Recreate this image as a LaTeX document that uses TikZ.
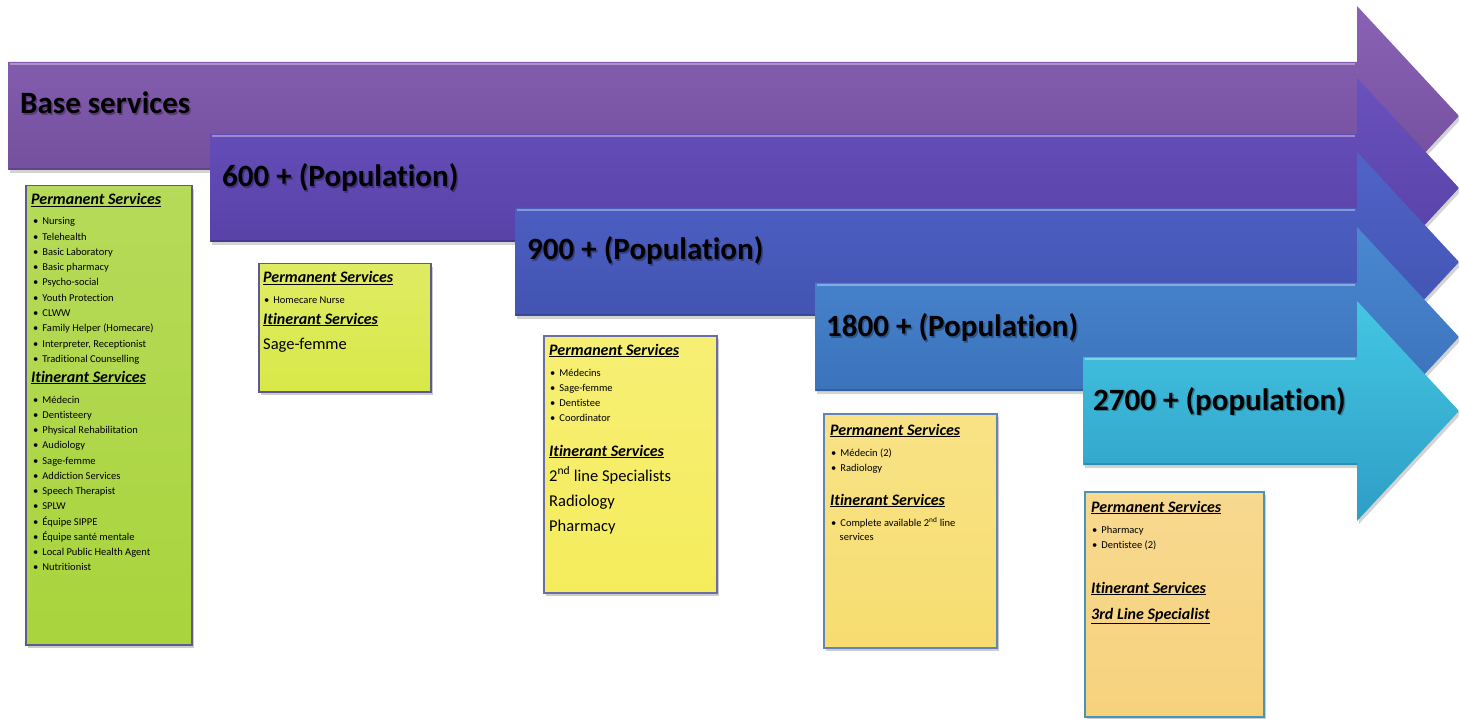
\documentclass[tikz,border=0pt]{standalone}
\usepackage{fontspec}
\setmainfont[Ligatures=NoCommon]{Carlito}
\usetikzlibrary{shadows}
\definecolor{arA}{HTML}{8A62B4}
\definecolor{arAd}{HTML}{6E4A98}
\definecolor{arB}{HTML}{6A52BE}
\definecolor{arBd}{HTML}{523CA0}
\definecolor{arC}{HTML}{5064C8}
\definecolor{arCd}{HTML}{3E4EAA}
\definecolor{arD}{HTML}{4A88D2}
\definecolor{arDd}{HTML}{366CB4}
\definecolor{arE}{HTML}{44C6E2}
\definecolor{arEd}{HTML}{2E9EC6}
\definecolor{cardA}{HTML}{A9D43C}
\definecolor{cardB}{HTML}{D9E848}
\definecolor{cardC}{HTML}{F5EC5C}
\definecolor{cardD}{HTML}{F7DD70}
\definecolor{cardE}{HTML}{F6D27C}
\definecolor{edgeA}{HTML}{5E5A8E}
\definecolor{edgeC}{HTML}{6A6EA6}
\definecolor{edgeD}{HTML}{5E86B6}
\definecolor{edgeE}{HTML}{4C94B4}
\newcommand\mysvcarrow[5]{%
  \path[drop shadow={opacity=0.35,shadow xshift=2pt,shadow yshift=-3pt},
        top color=#3, bottom color=#4]
    (#1,{#2-54}) -- (1357,{#2-54}) -- (1357,{#2-110}) -- (1459,#2)
    -- (1357,{#2+110}) -- (1357,{#2+54}) -- (#1,{#2+54}) -- cycle;
  \draw[white, opacity=0.35, line width=2pt] ({#1+2},{#2-52}) -- (1355,{#2-52});
  \draw[black, opacity=0.15, line width=1.5pt] ({#1+1},{#2+53}) -- (1357,{#2+53});
}
\newcommand\myitm[1]{\textbullet\hspace{4pt}#1}
\begin{document}
\begin{tikzpicture}[x=1pt,y=-1pt,
  ttl/.style={font=\fontsize{31}{31}\selectfont\bfseries, anchor=base west, inner sep=0pt, text=black},
  ttlsh/.style={ttl, text=black, opacity=0.3},
  hdr/.style={font=\fontsize{16}{16}\selectfont\bfseries\itshape, anchor=base west, inner sep=0pt},
  itm/.style={font=\fontsize{10.5}{10.5}\selectfont, anchor=base west, inner sep=0pt},
  bigt/.style={font=\fontsize{16.5}{16.5}\selectfont, anchor=base west, inner sep=0pt},
  card/.style={anchor=north west, inner sep=0pt, draw=#1, line width=1.5pt,
     drop shadow={opacity=0.4,shadow xshift=2pt,shadow yshift=-3pt}},
]
\useasboundingbox (0,0) rectangle (1459,719);

% arrows
\mysvcarrow{8}{116}{arA}{arAd}{}
\mysvcarrow{210}{188}{arB}{arBd}{}
\mysvcarrow{515}{262}{arC}{arCd}{}
\mysvcarrow{815}{337}{arD}{arDd}{}
\mysvcarrow{1083}{411}{arE}{arEd}{}

% arrow titles
\node[ttlsh] (t1s) at (21.5,115.5) {Base services};
\node[ttl] (t1) at (20,114) {Base services};
\node[ttlsh] (t2s) at (223.5,188.5) {600 + (Population)};
\node[ttl] (t2) at (222,187) {600 + (Population)};
\node[ttlsh] (t3s) at (528.5,261.5) {900 + (Population)};
\node[ttl] (t3) at (527,260) {900 + (Population)};
\node[ttlsh] (t4s) at (827.5,338.5) {1800 + (Population)};
\node[ttl] (t4) at (826,337) {1800 + (Population)};
\node[ttlsh] (t5s) at (1094.5,411.5) {2700 + (population)};
\node[ttl] (t5) at (1093,410) {2700 + (population)};

% card 1
\node[card=edgeA, top color=cardA!85!white, bottom color=cardA, minimum width=166pt, minimum height=459pt] (c1) at (25,185) {};
\node[hdr] (c1h1) at (31,205) {\underline{Permanent Services}};
\foreach \t [count=\i from 0] in {Nursing,Telehealth,Basic Laboratory,Basic pharmacy,Psycho-social,Youth Protection,CLWW,Family Helper  (Homecare),{Interpreter, Receptionist},Traditional Counselling}
  \node[itm] (c1p\i) at (33,{225+15.25*\i}) {\myitm{\t}};
\node[hdr] (c1h2) at (31,382) {\underline{Itinerant Services}};
\foreach \t [count=\i from 0] in {Médecin,Dentisteery,Physical Rehabilitation,Audiology,Sage-femme,Addiction  Services,Speech Therapist,SPLW,Équipe SIPPE,Équipe santé  mentale,Local Public  Health Agent,Nutritionist}
  \node[itm] (c1i\i) at (33,{403+15.25*\i}) {\myitm{\t}};

% card 2
\node[card=edgeA, top color=cardB!85!white, bottom color=cardB, minimum width=172pt, minimum height=128pt] (c2) at (258,263) {};
\node[hdr] (c2h1) at (263,283) {\underline{Permanent Services}};
\node[itm] (c2p0) at (264,304) {\myitm{Homecare  Nurse}};
\node[hdr] (c2h2) at (263,324) {\underline{Itinerant Services}};
\node[bigt] (c2i0) at (263,349) {Sage-femme};

% card 3
\node[card=edgeC, top color=cardC!85!white, bottom color=cardC, minimum width=173pt, minimum height=257pt] (c3) at (543,335) {};
\node[hdr] (c3h1) at (549,355) {\underline{Permanent Services}};
\foreach \t [count=\i from 0] in {Médecins,Sage-femme,Dentistee,Coordinator}
  \node[itm] (c3p\i) at (550,{376+15*\i}) {\myitm{\t}};
\node[hdr] (c3h2) at (549,456) {\underline{Itinerant Services}};
\node[bigt] (c3i0) at (549,481) {2\textsuperscript{nd} line  Specialists};
\node[bigt] (c3i1) at (549,506) {Radiology};
\node[bigt] (c3i2) at (549,531) {Pharmacy};

% card 4
\node[card=edgeD, top color=cardD!85!white, bottom color=cardD, minimum width=173pt, minimum height=234pt] (c4) at (823,413) {};
\node[hdr] (c4h1) at (830,435) {\underline{Permanent Services}};
\node[itm] (c4p0) at (831,456) {\myitm{Médecin (2)}};
\node[itm] (c4p1) at (831,471) {\myitm{Radiology}};
\node[hdr] (c4h2) at (830,505) {\underline{Itinerant Services}};
\node[itm] (c4i0) at (831,526) {\myitm{Complete  available  2\textsuperscript{nd} line}};
\node[itm] (c4i1) at (839.5,540) {services};

% card 5
\node[card=edgeE, top color=cardE!85!white, bottom color=cardE, minimum width=179pt, minimum height=225pt] (c5) at (1084,491) {};
\node[hdr] (c5h1) at (1091,512) {\underline{Permanent Services}};
\node[itm] (c5p0) at (1092,533) {\myitm{Pharmacy}};
\node[itm] (c5p1) at (1092,548) {\myitm{Dentistee  (2)}};
\node[hdr] (c5h2) at (1091,593) {\underline{Itinerant Services}};
\node[hdr] (c5i0) at (1091,619) {\underline{3rd Line Specialist}};
\end{tikzpicture}
\end{document}
